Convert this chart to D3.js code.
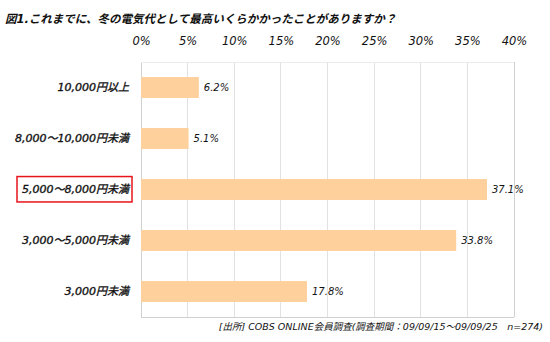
<!DOCTYPE html>
<html><head><meta charset="utf-8">
<script src="https://cdn.jsdelivr.net/npm/d3@7"></script>
<style>
html,body{margin:0;padding:0;background:#fff;}
text{font-family:"DejaVu Sans","Noto Sans CJK JP",sans-serif;font-style:italic;fill:#111;}
</style></head>
<body>
<svg id="chart" width="550" height="342"></svg>
<script>
const titleText = "図1.これまでに、冬の電気代として最高いくらかかったことがありますか？";
const categories = ["10,000円以上","8,000～10,000円未満","5,000～8,000円未満","3,000～5,000円未満","3,000円未満"];
const values = [6.2, 5.1, 37.1, 33.8, 17.8];
const tickValues = [0,5,10,15,20,25,30,35,40];
const highlighted = "5,000～8,000円未満";
const sourceText = "[出所] COBS ONLINE会員調査(調査期間：09/09/15～09/09/25　n=274)";

(function(){
const svg = d3.select("#chart");
const pL = 141, pR = 514, pT = 62, pB = 317;
const x = d3.scaleLinear().domain([0,40]).range([pL,pR]);
const y = d3.scaleBand().domain(categories).range([pT,pB]).paddingInner(0.59).paddingOuter(0.295);

svg.append("text").attr("x",5).attr("y",23).attr("font-size",11.5).attr("font-weight",700)
  .text(titleText);

svg.append("g").selectAll("line").data(tickValues).join("line")
  .attr("x1",d=>x(d)).attr("x2",d=>x(d)).attr("y1",pT).attr("y2",pB)
  .attr("stroke",d=> (d===0||d===40)?"#d0d0d0":"#e2e2e2").attr("stroke-width",1)
  .attr("shape-rendering","crispEdges");
svg.append("line").attr("x1",pL).attr("x2",pR).attr("y1",pB).attr("y2",pB)
  .attr("stroke","#d0d0d0").attr("shape-rendering","crispEdges");
svg.append("line").attr("x1",pL).attr("x2",pR).attr("y1",pT).attr("y2",pT)
  .attr("stroke","#ececec").attr("shape-rendering","crispEdges");

const axis = d3.axisTop(x).tickValues(tickValues).tickFormat(d=>d+"%").tickSize(0).tickPadding(0);
const ag = svg.append("g").attr("transform","translate(0,45)").call(axis);
ag.select(".domain").remove();
ag.attr("font-family",null).attr("font-size",null);
ag.selectAll("text").attr("font-size",11.5).attr("fill","#111").attr("dy",0);

svg.append("g").selectAll("rect").data(values).join("rect")
  .attr("x",x(0)).attr("y",(d,i)=>y(categories[i]))
  .attr("width",d=>x(d)-x(0)).attr("height",y.bandwidth())
  .attr("fill","#fdd09c");

svg.append("g").selectAll("text").data(values).join("text")
  .attr("x",d=>x(d)+5).attr("y",(d,i)=>y(categories[i])+y.bandwidth()/2)
  .attr("dy","0.35em").attr("font-size",10).text(d=>d.toFixed(1)+"%");

svg.append("g").selectAll("text").data(categories).join("text")
  .attr("x",129).attr("y",d=>y(d)+y.bandwidth()/2).attr("dy","0.35em")
  .attr("text-anchor","end").attr("font-size",11).attr("stroke","#111").attr("stroke-width",0.35)
  .text(d=>d);

const hb = y(highlighted);
svg.append("rect").attr("x",17).attr("y",hb-2.5).attr("width",115).attr("height",y.bandwidth()+4.5)
  .attr("fill","none").attr("stroke","#e8141b").attr("stroke-width",1.5);

svg.append("text").attr("x",543).attr("y",330).attr("text-anchor","end").attr("font-size",9.5)
  .text(sourceText);
})();
</script>
</body></html>
